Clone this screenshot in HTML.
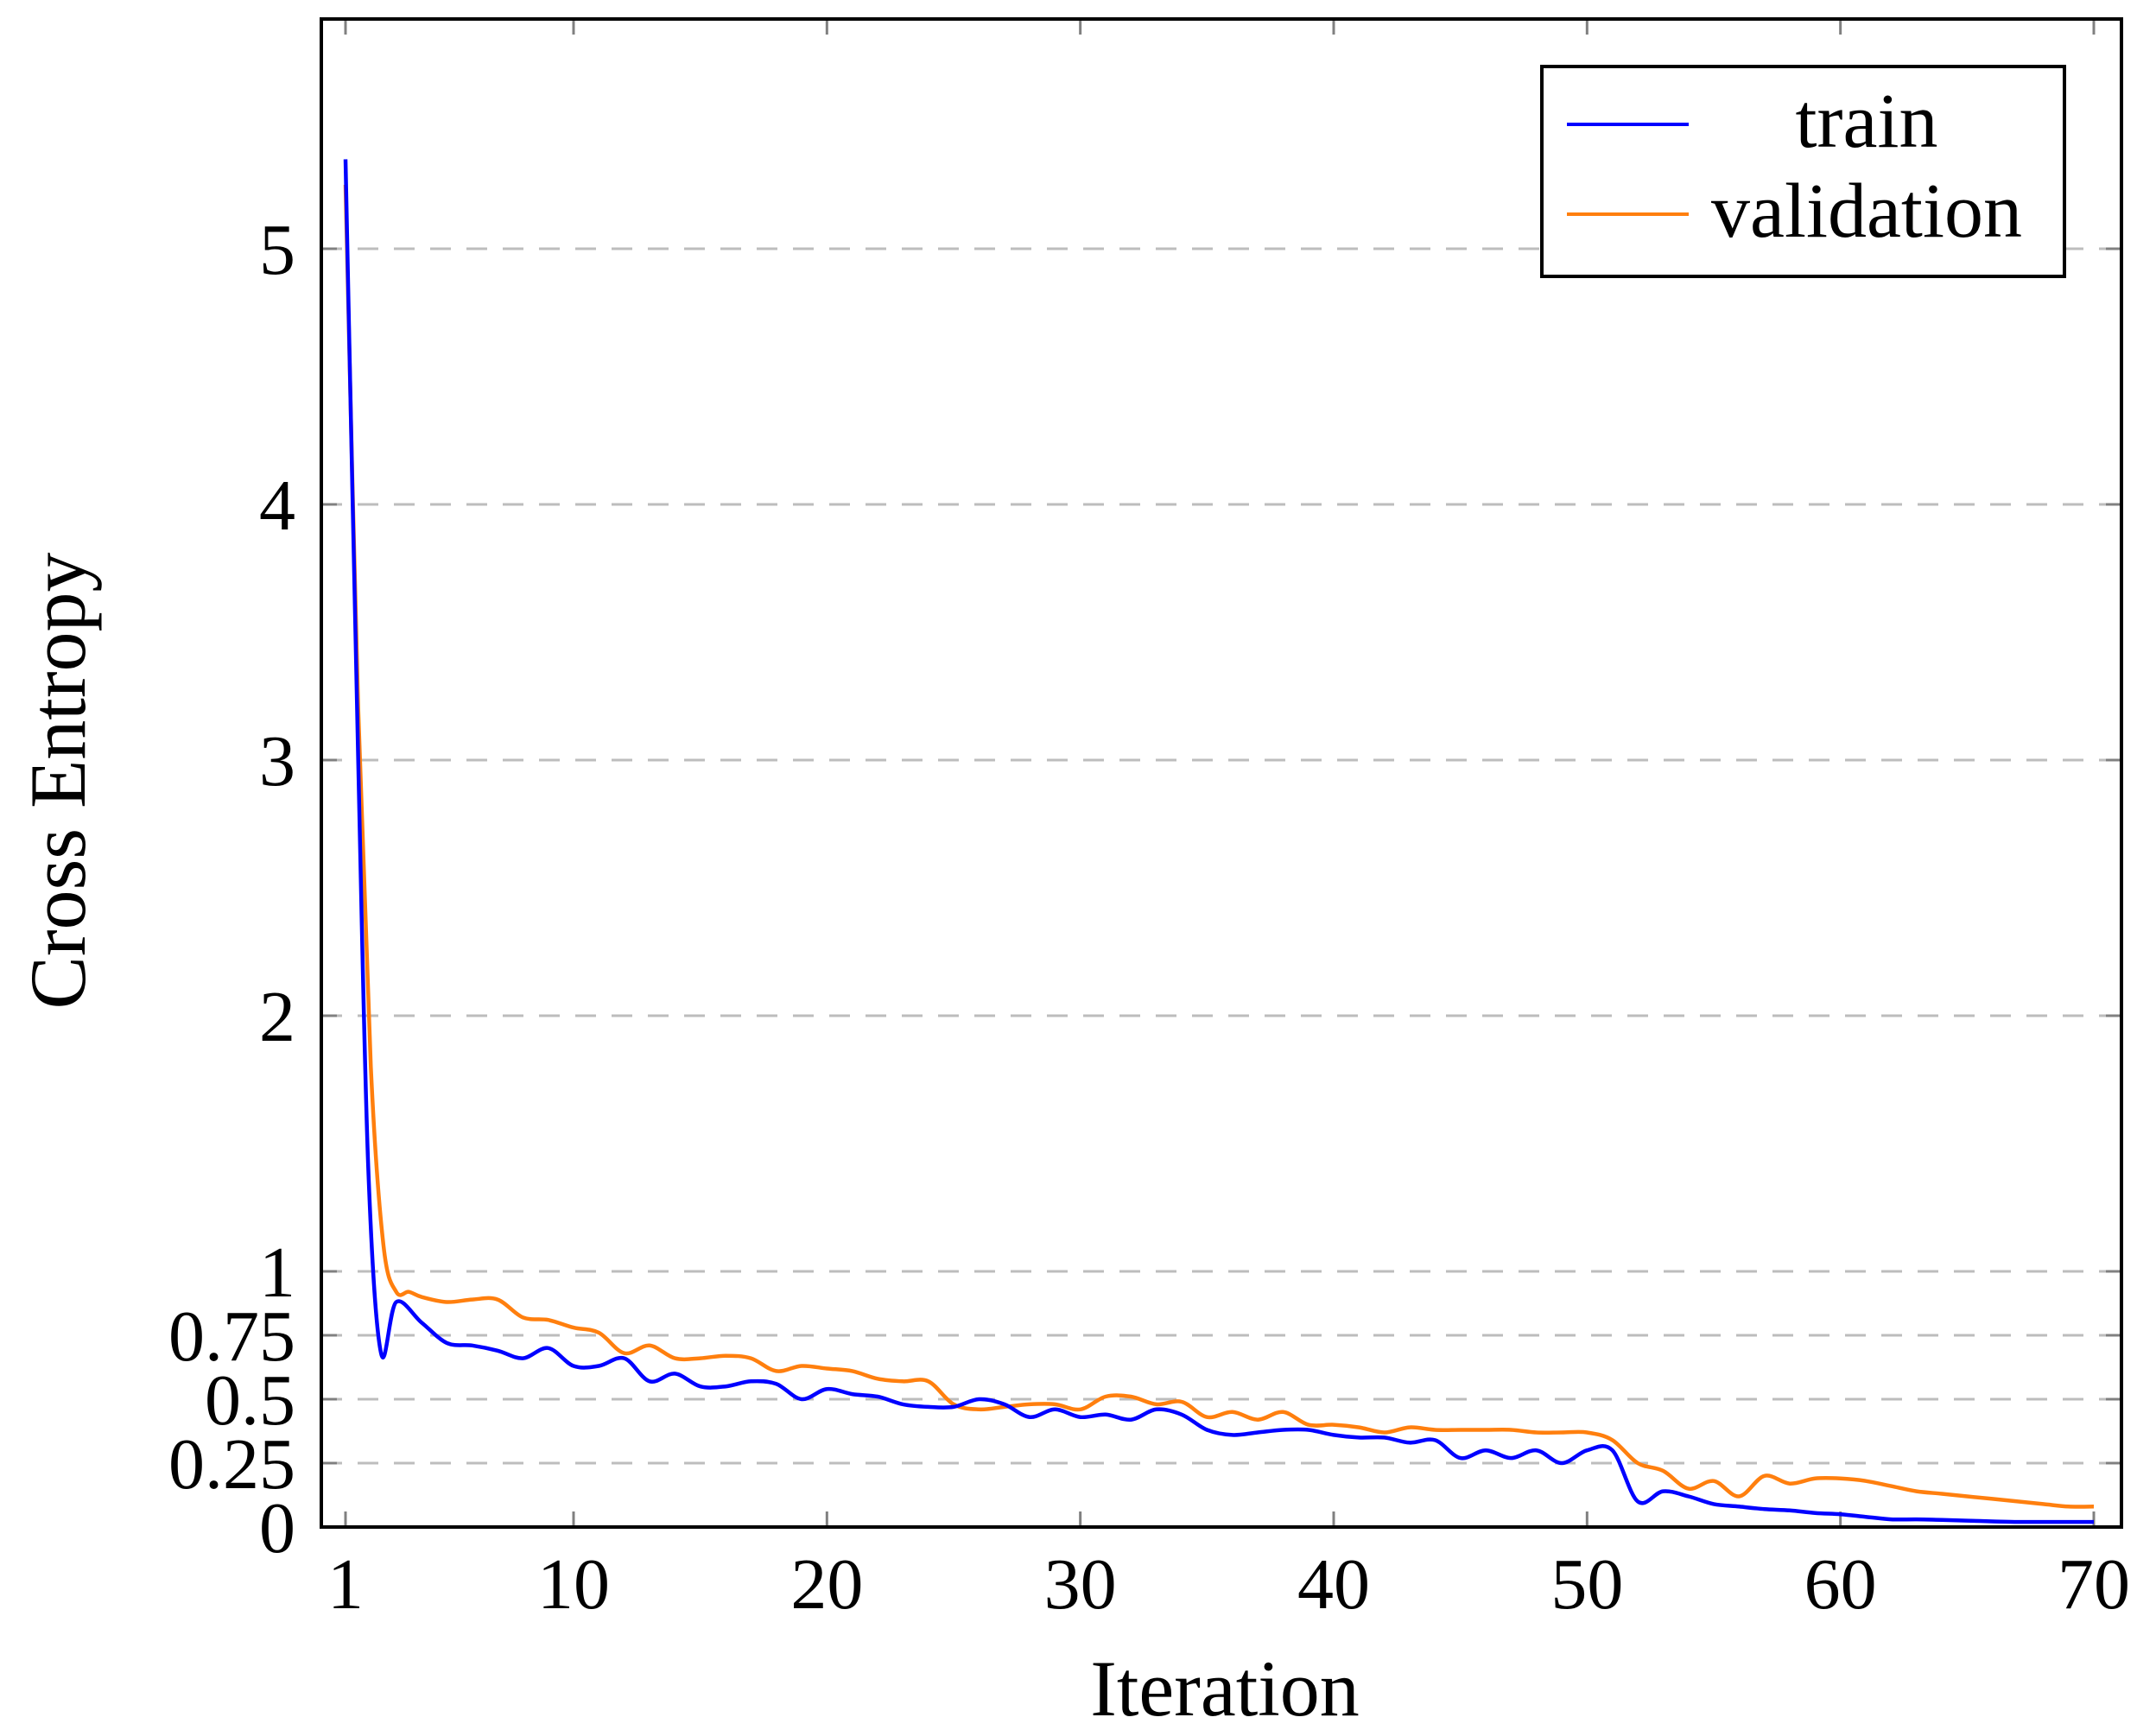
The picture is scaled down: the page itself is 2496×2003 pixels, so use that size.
<!DOCTYPE html>
<html><head><meta charset="utf-8"><style>
html,body{margin:0;padding:0;background:#fff;}
svg{display:block;font-family:"Liberation Serif",serif;}
</style></head><body>
<svg id="chart" width="2496" height="2003" viewBox="0 0 2496 2003" xmlns="http://www.w3.org/2000/svg">
<g id="grid"></g>
<g id="ticks"></g>
<g id="series"></g>
<rect x="372" y="22" width="2084" height="1746" fill="none" stroke="#000" stroke-width="4"/>
<g id="labels" font-size="84" fill="#000"></g>
<text x="1418" y="1986" font-size="92" text-anchor="middle">Iteration</text>
<text transform="translate(98,904) rotate(-90)" font-size="92" text-anchor="middle">Cross Entropy</text>
<g>
<rect x="1785" y="77" width="605" height="243" fill="#fff" stroke="#000" stroke-width="4"/>
<line x1="1814" y1="144" x2="1955" y2="144" stroke="#0000ff" stroke-width="4"/>
<text x="2161" y="170" font-size="90" text-anchor="middle">train</text>
<line x1="1814" y1="248" x2="1955" y2="248" stroke="#ff7f0e" stroke-width="4"/>
<text x="2161" y="274" font-size="90" text-anchor="middle">validation</text>
</g>
</svg>
<script>
const trainX=[1,1.5,1.9,2.4,3,4,5,6,7,8,9,10,11,12,13,14,15,16,17,18,19,20,21,22,23,24,25,26,27,28,29,30,31,32,33,34,35,36,37,38,39,40,41,42,43,44,45,46,47,48,49,50,51,52,53,54,55,56,57,58,59,60,61,62,63,64,65,66,67,68,69,70];
const trainY=[5.35,3.0,1.4,0.68,0.88,0.8,0.72,0.71,0.69,0.66,0.7,0.63,0.63,0.66,0.57,0.6,0.55,0.55,0.57,0.56,0.5,0.54,0.52,0.51,0.48,0.47,0.47,0.5,0.48,0.43,0.46,0.43,0.44,0.42,0.46,0.44,0.38,0.36,0.37,0.38,0.38,0.36,0.35,0.35,0.33,0.34,0.27,0.3,0.27,0.3,0.25,0.3,0.3,0.1,0.14,0.12,0.09,0.08,0.07,0.065,0.055,0.05,0.04,0.03,0.03,0.028,0.025,0.022,0.02,0.02,0.02,0.02];
const valX=[1,1.5,2,2.5,3,3.5,4,5,6,7,8,9,10,11,12,13,14,15,16,17,18,19,20,21,22,23,24,25,26,27,28,29,30,31,32,33,34,35,36,37,38,39,40,41,42,43,44,45,46,47,48,49,50,51,52,53,54,55,56,57,58,59,60,61,62,63,64,65,66,67,68,69,70];
const valY=[5.25,3.2,1.8,1.1,0.92,0.92,0.9,0.88,0.89,0.89,0.82,0.81,0.78,0.76,0.68,0.71,0.66,0.66,0.67,0.66,0.61,0.63,0.62,0.61,0.58,0.57,0.57,0.48,0.46,0.47,0.48,0.48,0.46,0.51,0.51,0.48,0.49,0.43,0.45,0.42,0.45,0.4,0.4,0.39,0.37,0.39,0.38,0.38,0.38,0.38,0.37,0.37,0.37,0.34,0.25,0.22,0.15,0.18,0.12,0.2,0.17,0.19,0.19,0.18,0.16,0.14,0.13,0.12,0.11,0.1,0.09,0.08,0.08];
const xTicks=[1,10,20,30,40,50,60,70];
const yTicks=[0,0.25,0.5,0.75,1,2,3,4,5];
const yTickLabels=["0","0.25","0.5","0.75","1","2","3","4","5"];

const NS="http://www.w3.org/2000/svg";
const L=372,R=2456,T=22,B=1768;
function sx(v){return 400+(v-1)*(2424-400)/69;}
function sy(v){return 1768-v*(1768-288)/5;}
function mk(tag,attrs,parent){const e=document.createElementNS(NS,tag);for(const k in attrs)e.setAttribute(k,attrs[k]);parent.appendChild(e);return e;}
const grid=document.getElementById('grid'),ticks=document.getElementById('ticks'),labels=document.getElementById('labels'),series=document.getElementById('series');
yTicks.forEach((v,i)=>{
  const y=sy(v);
  if(v>0){const g=mk('line',{x1:L,x2:R,y1:y,y2:y,stroke:'#bdbdbd','stroke-width':3,'stroke-dasharray':'24 18'},grid);
  
  }
  const t1=mk('line',{x1:L,x2:L+18,y1:y,y2:y,stroke:'#808080','stroke-width':3},ticks);
  
  
  const t2=mk('line',{x1:R-18,x2:R,y1:y,y2:y,stroke:'#808080','stroke-width':3},ticks);
  
  
  const tx=mk('text',{x:342,y:y+29,'text-anchor':'end'},labels);tx.textContent=yTickLabels[i];
  
  
});
xTicks.forEach(v=>{
  const x=sx(v);
  const t1=mk('line',{x1:x,x2:x,y1:B-18,y2:B,stroke:'#808080','stroke-width':3},ticks);
  
  
  const t2=mk('line',{x1:x,x2:x,y1:T,y2:T+18,stroke:'#808080','stroke-width':3},ticks);
  
  
  const tx=mk('text',{x:x,y:1862,'text-anchor':'middle'},labels);tx.textContent=String(v);
  
  
});
function smooth(xs,ys){
  const p=xs.map((x,i)=>[sx(x),sy(ys[i])]);
  let d='M'+p[0][0].toFixed(1)+','+p[0][1].toFixed(1);
  for(let i=0;i<p.length-1;i++){
    const p0=p[Math.max(0,i-1)],p1=p[i],p2=p[i+1],p3=p[Math.min(p.length-1,i+2)];
    const c1=[p1[0]+(p2[0]-p0[0])/6,p1[1]+(p2[1]-p0[1])/6];
    const c2=[p2[0]-(p3[0]-p1[0])/6,p2[1]-(p3[1]-p1[1])/6];
    d+=' C'+c1[0].toFixed(1)+','+c1[1].toFixed(1)+' '+c2[0].toFixed(1)+','+c2[1].toFixed(1)+' '+p2[0].toFixed(1)+','+p2[1].toFixed(1);
  }
  return d;
}
const lv=mk('path',{d:smooth(valX,valY),fill:'none',stroke:'#ff7f0e','stroke-width':4.5,'stroke-linejoin':'round'},series);


const lt=mk('path',{d:smooth(trainX,trainY),fill:'none',stroke:'#0000ff','stroke-width':4.5,'stroke-linejoin':'round'},series);


</script>
</body></html>
